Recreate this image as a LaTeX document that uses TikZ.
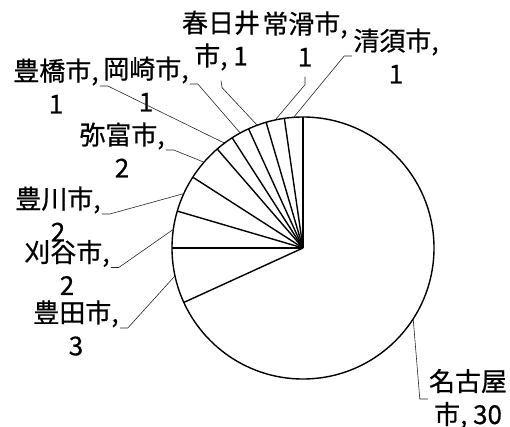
\documentclass[tikz,border=0pt]{standalone}
\usepackage{fontspec}
\newfontfamily\jpfont[FakeBold=0.6]{Noto Sans CJK JP}
\usepackage{tikz}

\begin{document}
\begin{tikzpicture}[x=1pt, y=1pt,
	lbl/.style={align=center, inner sep=1pt, font=\jpfont\fontsize{26}{33}\selectfont},
	leader/.style={line width=0.6pt, color=black!85},
	wedge/.style={line width=1.4pt}]
						\useasboundingbox (0, 0) rectangle (510, 426);
						\coordinate (c) at (303, 178);
						\draw[wedge] (c) circle (131pt);
						\draw[wedge] (c) -- +(90:131);
						\draw[wedge] (c) -- +(204.55:131);
						\draw[wedge] (c) -- +(180:131);
						\draw[wedge] (c) -- +(163.64:131);
						\draw[wedge] (c) -- +(147.27:131);
						\draw[wedge] (c) -- +(130.91:131);
						\draw[wedge] (c) -- +(122.73:131);
						\draw[wedge] (c) -- +(114.55:131);
						\draw[wedge] (c) -- +(106.36:131);
						\draw[wedge] (c) -- +(98.18:131);
						\coordinate (p-nagoya) at ([shift={(-32.73:131)}]c);
						\coordinate (p-toyota) at ([shift={(192.27:131)}]c);
						\coordinate (p-kariya) at ([shift={(171.82:131)}]c);
						\coordinate (p-toyokawa) at ([shift={(155.45:131)}]c);
						\coordinate (p-tomi) at ([shift={(139.09:131)}]c);
						\coordinate (p-toyohashi) at ([shift={(126.82:131)}]c);
						\coordinate (p-okazaki) at ([shift={(118.64:131)}]c);
						\coordinate (p-kasugai) at ([shift={(110.45:131)}]c);
						\coordinate (p-tokoname) at ([shift={(102.27:131)}]c);
						\coordinate (p-kiyosu) at ([shift={(94.09:131)}]c);
						\node[lbl] (l-nagoya) at (468, 27) {名古屋\\市, 30};
						\node[lbl] (l-toyota) at (76, 98) {豊田市,\\3};
						\node[lbl] (l-kariya) at (67, 158.5) {刈谷市,\\2};
						\node[lbl] (l-toyokawa) at (58, 212) {豊川市,\\2};
						\node[lbl] (l-tomi) at (122, 276) {弥富市,\\2};
						\node[lbl] (l-toyohashi) at (56, 340) {豊橋市,\\1};
						\node[lbl] (l-okazaki) at (146, 342) {岡崎市,\\1};
						\node[lbl] (l-kasugai) at (221, 385.5) {春日井\\市, 1};
						\node[lbl] (l-tokoname) at (305, 387) {常滑市,\\1};
						\node[lbl] (l-kiyosu) at (396, 370) {清須市,\\1};
						\draw[leader] (l-nagoya.west) -- ++(-8, 0) -- (p-nagoya);
						\draw[leader] (l-toyota.east) -- ++(8, 0) -- (p-toyota);
						\draw[leader] (l-kariya.east) -- ++(8, 0) -- (p-kariya);
						\draw[leader] (l-toyokawa.east) -- ++(8, 0) -- (p-toyokawa);
						\draw[leader] (l-tomi.east) -- ++(8, 0) -- (p-tomi);
						\draw[leader] (l-toyohashi.east) -- ++(8, 0) -- (p-toyohashi);
						\draw[leader] (l-okazaki.east) -- ++(8, 0) -- (p-okazaki);
						\draw[leader] ([yshift=-9pt]l-kasugai.south) -- ++(1, -7) -- (p-kasugai);
						\draw[leader] ([yshift=-9pt]l-tokoname.south) -- ++(0, -8) -- (p-tokoname);
						\draw[leader] (l-kiyosu.west) -- ++(-8, 0) -- (p-kiyosu);
					\end{tikzpicture}
\end{document}
